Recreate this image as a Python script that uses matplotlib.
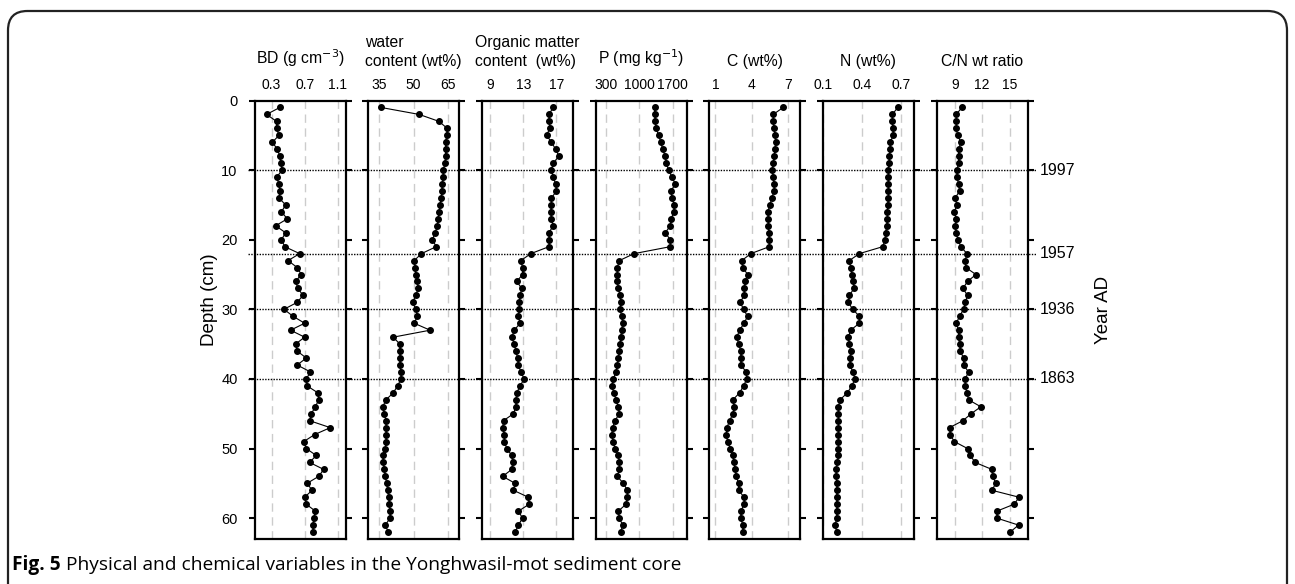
import numpy as np
import matplotlib.pyplot as plt
from matplotlib.patches import FancyBboxPatch

plt.rcParams['font.family'] = ['Liberation Sans', 'DejaVu Sans']

# depth of each sample (cm)
depth = np.arange(1, 63)

bd = [0.40, 0.24, 0.36, 0.36, 0.39, 0.31, 0.37, 0.40, 0.41, 0.43,
      0.36, 0.39, 0.40, 0.39, 0.47, 0.42, 0.49, 0.35, 0.47, 0.42,
      0.46, 0.64, 0.50, 0.61, 0.66, 0.59, 0.62, 0.68, 0.61, 0.45,
      0.56, 0.70, 0.53, 0.70, 0.59, 0.61, 0.72, 0.61, 0.77, 0.72,
      0.73, 0.86, 0.87, 0.83, 0.78, 0.76, 1.01, 0.82, 0.69, 0.72,
      0.84, 0.76, 0.93, 0.87, 0.73, 0.79, 0.70, 0.72, 0.83, 0.81,
      0.80, 0.80]

water = [35.7, 52.5, 61.2, 64.8, 64.6, 64.1, 64.1, 64.1, 63.8, 63.1,
         63.0, 62.7, 62.4, 62.2, 61.6, 61.2, 60.8, 60.5, 59.5, 58.3,
         60.0, 53.5, 50.3, 50.7, 51.0, 51.7, 52.0, 51.0, 49.6, 51.0,
         51.7, 50.3, 57.3, 41.1, 44.0, 44.0, 44.0, 44.0, 44.5, 44.5,
         43.0, 41.1, 37.9, 36.5, 37.2, 37.9, 37.9, 37.9, 37.9, 37.6,
         36.5, 36.7, 37.2, 37.6, 38.2, 38.6, 39.1, 39.4, 39.7, 39.7,
         37.6, 38.9]

om = [16.6, 16.1, 16.1, 16.2, 15.8, 16.4, 16.9, 17.3, 16.6, 16.4,
      16.6, 16.9, 17.0, 16.4, 16.4, 16.3, 16.4, 16.6, 16.1, 16.1,
      16.1, 13.9, 12.7, 12.9, 12.9, 12.2, 12.8, 12.6, 12.5, 12.5,
      12.4, 12.6, 11.9, 11.6, 11.9, 12.1, 12.3, 12.4, 12.7, 13.1,
      12.6, 12.2, 12.1, 12.1, 11.8, 10.6, 10.5, 10.7, 10.7, 11.0,
      11.6, 11.7, 11.6, 10.5, 12.0, 11.8, 13.6, 13.7, 12.4, 12.9,
      12.4, 12.0]

p = [1322, 1322, 1336, 1357, 1406, 1455, 1490, 1546, 1567, 1616,
     1686, 1756, 1665, 1686, 1735, 1721, 1672, 1651, 1546, 1651,
     1651, 895, 587, 545, 545, 545, 566, 601, 615, 601,
     636, 657, 636, 615, 601, 587, 566, 545, 517, 461,
     426, 475, 517, 566, 587, 496, 447, 426, 461, 496,
     566, 587, 587, 545, 671, 755, 755, 727, 566, 587,
     657, 615]

c = [6.59, 5.77, 5.77, 5.83, 5.91, 5.96, 5.91, 5.85, 5.77, 5.69,
     5.77, 5.83, 5.85, 5.64, 5.50, 5.31, 5.36, 5.36, 5.42, 5.42,
     5.45, 3.92, 3.18, 3.24, 3.67, 3.45, 3.40, 3.37, 3.05, 3.32,
     3.65, 3.37, 2.99, 2.77, 2.91, 3.10, 3.10, 3.10, 3.54, 3.59,
     3.32, 2.99, 2.45, 2.55, 2.45, 2.17, 1.95, 1.90, 2.01, 2.23,
     2.45, 2.50, 2.64, 2.72, 2.91, 2.91, 3.37, 3.37, 3.10, 3.10,
     3.26, 3.26]

n = [0.677, 0.636, 0.636, 0.638, 0.644, 0.618, 0.618, 0.613, 0.610, 0.605,
     0.605, 0.605, 0.605, 0.605, 0.600, 0.597, 0.597, 0.592, 0.584, 0.579,
     0.562, 0.382, 0.305, 0.315, 0.323, 0.336, 0.341, 0.305, 0.297, 0.331,
     0.382, 0.382, 0.315, 0.297, 0.305, 0.315, 0.310, 0.310, 0.331, 0.349,
     0.323, 0.290, 0.233, 0.221, 0.221, 0.221, 0.221, 0.221, 0.221, 0.221,
     0.221, 0.213, 0.203, 0.203, 0.208, 0.208, 0.208, 0.208, 0.208, 0.208,
     0.195, 0.208]

cn = [9.77, 9.15, 9.15, 9.15, 9.29, 9.66, 9.40, 9.40, 9.40, 9.22,
      9.22, 9.40, 9.51, 9.04, 9.22, 8.93, 9.15, 9.04, 9.15, 9.33,
      9.66, 10.32, 10.13, 10.21, 11.31, 10.39, 9.88, 10.39, 10.13, 9.95,
      9.51, 9.15, 9.40, 9.40, 9.51, 9.59, 9.95, 9.95, 10.50, 10.13,
      10.13, 10.32, 10.50, 11.85, 10.79, 9.88, 8.41, 8.49, 8.93, 10.39,
      10.68, 11.23, 13.06, 13.14, 13.50, 13.06, 16.06, 15.51, 13.61, 13.61,
      15.99, 15.08]

series = [bd, water, om, p, c, n, cn]
titles = ['BD (g cm$^{-3}$)', 'water\ncontent (wt%)', 'Organic matter\ncontent  (wt%)',
          'P (mg kg$^{-1}$)', 'C (wt%)', 'N (wt%)', 'C/N wt ratio']
xticks = [[0.3, 0.7, 1.1], [35, 50, 65], [9, 13, 17], [300, 1000, 1700],
          [1, 4, 7], [0.1, 0.4, 0.7], [9, 12, 15]]
xticklabels = [['0.3', '0.7', '1.1'], ['35', '50', '65'], ['9', '13', '17'],
               ['300', '1000', '1700'], ['1', '4', '7'], ['0.1', '0.4', '0.7'],
               ['9', '12', '15']]
xlims = [(0.1, 1.2), (30, 70), (8, 19), (100, 2000), (0.5, 8), (0.1, 0.8), (7, 17)]

event_depths = [10, 22, 30, 40]
event_years = ['1997', '1957', '1936', '1863']

W, H = 1295, 584
fig = plt.figure(figsize=(W / 100, H / 100), dpi=100)

# outer frame
frame = FancyBboxPatch((8 / W, -0.05), (1287 - 8) / W, (H - 11) / H + 0.05,
                       boxstyle='round,pad=0,rounding_size=0.015',
                       transform=fig.transFigure, fill=False,
                       ec='#222222', lw=1.6, mutation_aspect=W / H)
fig.patches.append(frame)

top_px, bot_px = 100.5, 539
lefts = [255, 368, 482, 596, 709.3, 822.7, 936.7]
pw = 91
ylim = (63, 0)

axes = []
for i, x0 in enumerate(lefts):
    ax = fig.add_axes([x0 / W, 1 - bot_px / H, pw / W, (bot_px - top_px) / H])
    ax.set_facecolor('none')
    ax.plot(series[i], depth, color='black', lw=0.8, marker='o', ms=4,
            mfc='black', mec='black', zorder=3)
    ax.set_xlim(*xlims[i])
    ax.set_ylim(*ylim)
    ax.xaxis.tick_top()
    ax.set_xticks(xticks[i])
    ax.set_xticklabels(xticklabels[i])
    ax.tick_params(axis='x', length=0, pad=6, labelsize=10)
    for xv in xticks[i]:
        ax.axvline(xv, color='#cccccc', lw=1.0, ls=(0, (6, 4)), zorder=1)
    ax.set_yticks(np.arange(0, 61, 10))
    ax.tick_params(axis='y', which='major', direction='out', length=4.5, width=1.5,
                   left=True, right=True, labelleft=(i == 0), labelsize=10.5, pad=8)
    for s in ax.spines.values():
        s.set_linewidth(1.6)
    ax.annotate(titles[i], xy=(0.5, 1), xycoords='axes fraction', xytext=(0, 23),
                textcoords='offset points', ha='center', va='bottom',
                multialignment='left', fontsize=11.3, linespacing=1.3)
    axes.append(ax)

# dotted event lines across all panels
x_start, x_end = 248, 1037
ov = fig.add_axes([x_start / W, 1 - bot_px / H, (x_end - x_start) / W, (bot_px - top_px) / H],
                  zorder=10)
ov.set_facecolor('none')
ov.axis('off')
ov.set_xlim(0, 1)
ov.set_ylim(*ylim)
for d, yr in zip(event_depths, event_years):
    ov.hlines(d, 0, 1, colors='black', linestyles=(0, (1, 1)), lw=1.0)
    ov.text(1.003, d, yr, ha='left', va='center', fontsize=11.5)

fig.text(210 / W, 1 - 300 / H, 'Depth (cm)', rotation=90, ha='center', va='center', fontsize=13.5)
fig.text(1103 / W, 1 - 310 / H, 'Year AD', rotation=90, ha='center', va='center', fontsize=13.5)

# caption
cap_y = 1 - 565 / H
t1 = fig.text(12 / W, cap_y, 'Fig. 5', ha='left', va='center', fontsize=13.8,
              fontweight='bold', family=['Open Sans', 'DejaVu Sans'])
fig.canvas.draw()
bb = t1.get_window_extent()
fig.text((bb.x1 + 5) / W, cap_y, 'Physical and chemical variables in the Yonghwasil-mot sediment core',
         ha='left', va='center', fontsize=13.8, family=['Open Sans', 'DejaVu Sans'])

fig.savefig('out.png', dpi=100)
